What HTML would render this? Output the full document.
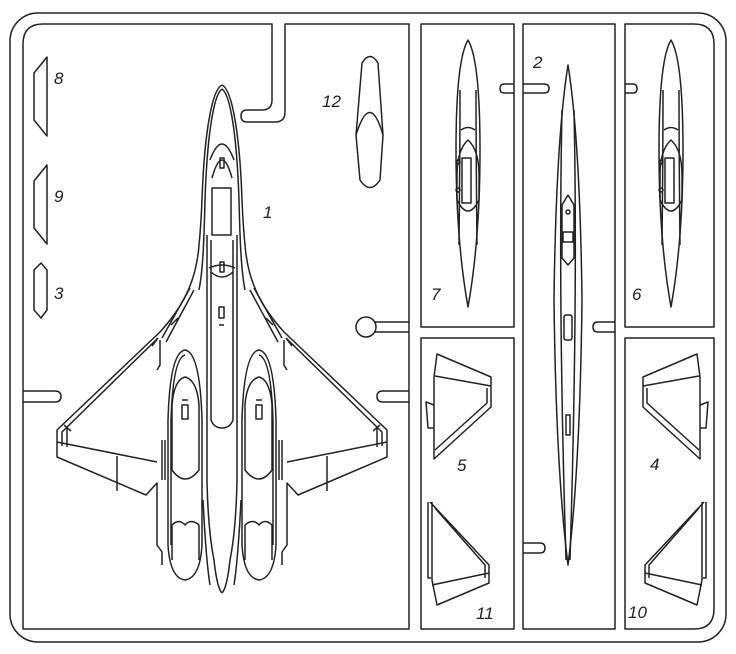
<!DOCTYPE html>
<html><head><meta charset="utf-8"><style>
html,body{margin:0;padding:0;background:#fff}
svg{display:block}
text{font-family:"Liberation Sans",sans-serif;font-style:italic;font-size:17px;fill:#222}
</style></head><body>
<svg width="736" height="654" viewBox="0 0 736 654" xmlns="http://www.w3.org/2000/svg">
<g fill="none" stroke="#222" stroke-width="1.5" stroke-linejoin="round">
<rect x="10" y="13" width="716" height="629" rx="28"/>
<path d="M23 629 V44 Q23 24 43 24 H272 V100 Q272 110 262 110 H247 Q241 110 241 116 Q241 122 247 122 H275 Q285 122 285 112 V24 H409 V629 Z"/>
<path d="M421 24 H514 V327 H421 Z"/>
<path d="M421 338 H514 V629 H421 Z"/>
<path d="M523 24 H615 V629 H523 Z"/>
<path d="M625 24 H694 Q714 24 714 44 V327 H625 Z"/>
<path d="M625 338 H714 V609 Q714 629 694 629 H625 Z"/>
<path d="M23 391 H55 Q61 391 61 396.5 Q61 402 55 402 H23"/>
<path d="M409 391 H383 Q377 391 377 396.5 Q377 402 383 402 H409"/>
<path d="M514 84 H504 Q500 84 500 88.5 Q500 93 504 93 H514 M523 84 H544 Q549 84 549 88.5 Q549 93 544 93 H523"/>
<path d="M625 84 H633 Q637 84 637 88.5 Q637 93 633 93 H625"/>
<path d="M615 322 H598 Q593 322 593 327 Q593 332 598 332 H615"/>
<path d="M523 543 H540 Q545 543 545 548 Q545 553 540 553 H523"/>
<path d="M409 322 H375 M409 332 H375"/>
<circle cx="366" cy="327" r="10" fill="#fff"/>
<path d="M47 57 L34 73 V120 L47 136 Z"/>
<path d="M47 165 L34 181 V228 L47 244 Z"/>
<path d="M41 263 L34 270 V310 L41 318 L47 310 V270 Z"/>
<path d="M362 63 Q370 50 378 63 L383 135 L380 180 Q370 195 360 180 L356 135 Z"/>
<path d="M356 135 Q370 90 383 135"/>
<g id="half">
<path d="M222 85 C211 90 204 140 202 200 C201 225 200 235 199 245 C196 285 180 310 160 332 L57 430 V457 L146 495 L157 483 V545 L162 552 V565"/>
<path d="M222 89 C213 95 207 140 205 200 C204 240 203 270 199 290"/>
<path d="M190 288 L162 338 M194 290 L166 342 M158 338 L152 346 M178 318 L171 325"/>
<path d="M158 338 L62 432 V446 M67 428 V447 M64 425 L71 431"/>
<path d="M57 442 L157 462 M117 456 V491"/>
<path d="M157 370 L160 365 V340"/>
<path d="M207 235 V480 Q208 530 214 560 Q217 588 222 593"/>
<path d="M211 240 V420 Q214 428 222 428"/>
<path d="M185 350 Q170 352 168 420 V545 Q170 578 185 580 Q200 578 202 545 V420 Q200 352 185 350 Z"/>
<path d="M185 355 Q173 358 171 420 V545"/>
<path d="M185 377 Q174 380 172 405 V470 Q185 488 199 470 V405 Q197 380 185 377 Z"/>
<path d="M172 525 Q179 518 185 525 Q191 518 199 525 M172 525 V560 M199 525 V560"/>
<path d="M203 500 Q206 560 210 585"/>
<path d="M162 440 V480 M165 440 V480"/>
<rect x="182" y="405" width="6" height="14"/>
<path d="M182 400 H188"/>
</g>
<use href="#half" transform="translate(444 0) scale(-1 1)"/>
<path d="M212 178 Q222 142 232 178 M210 160 Q222 128 234 160"/>
<rect x="212" y="188" width="19" height="47"/>
<path d="M211 272 Q222 282 233 272 M209 268 Q222 262 235 268"/>
<rect x="220" y="158" width="4" height="10"/>
<rect x="220" y="262" width="4" height="10"/>
<rect x="219" y="307" width="5" height="11"/>
<path d="M219 325 H224"/>
<g id="p7">
<path d="M468 40 Q456 60 456 150 Q456 240 468 307 Q480 240 480 150 Q480 60 468 40 Z"/>
<path d="M460 90 Q460 150 459 245 M476 90 Q476 150 477 245"/>
<path d="M461 130 Q468 125 475 130"/>
<path d="M468 140 Q457 150 457 175 V200 Q468 222 479 200 V175 Q479 150 468 140 Z"/>
<rect x="462" y="158" width="9" height="45"/>
<circle cx="458" cy="162" r="2"/><circle cx="458" cy="190" r="2"/>
</g>
<use href="#p7" transform="translate(203 0)"/>
<path d="M568 65 Q556 140 554 300 Q556 470 568 565 Q580 470 582 300 Q580 140 568 65 Z"/>
<path d="M562 110 Q558 300 566 560 M574 110 Q578 300 570 560"/>
<path d="M568 195 L562 205 V258 L568 265 L574 258 V205 Z"/>
<rect x="563" y="232" width="10" height="10"/>
<circle cx="568" cy="212" r="2"/>
<rect x="564" y="315" width="8" height="25" rx="2"/>
<rect x="566" y="415" width="4" height="20"/>
<g id="p5">
<path d="M437 354 L491 377 V407 L434 459 V377 Z"/>
<path d="M435 376 L491 386 M487 388 V403 L435 450"/>
<path d="M434 405 L426 402 L428 428 H434"/>
</g>
<use href="#p5" transform="translate(1134 0) scale(-1 1)"/>
<g id="p11">
<path d="M430 502 L489 565 V583 L437 605 L432 580 V502"/>
<path d="M428 502 V578 H431 M435 508 L485 565 V578 M432 585 L489 573"/>
</g>
<use href="#p11" transform="translate(1134 0) scale(-1 1)"/>
</g>
<text x="54" y="84">8</text>
<text x="54" y="202">9</text>
<text x="54" y="299">3</text>
<text x="322" y="107">12</text>
<text x="263" y="218">1</text>
<text x="533" y="68">2</text>
<text x="431" y="300">7</text>
<text x="632" y="300">6</text>
<text x="457" y="471">5</text>
<text x="650" y="470">4</text>
<text x="476" y="619">11</text>
<text x="628" y="618">10</text>
</svg>
</body></html>
